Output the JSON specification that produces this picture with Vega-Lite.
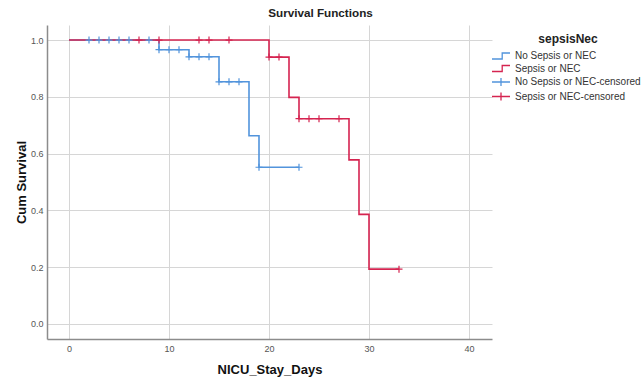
{
  "$schema": "https://vega.github.io/schema/vega-lite/v6.json",
  "width": 445,
  "height": 314,
  "autosize": {"type": "none"},
  "padding": {"left": 47, "top": 25, "right": 150, "bottom": 40},
  "background": "white",
  "title": {"text": "Survival Functions", "fontSize": 11.7, "fontWeight": "bold", "font": "Liberation Sans", "color": "#222222", "anchor": "middle", "dx": 51, "offset": 5},
  "config": {"view": {"stroke": null}, "font": "Liberation Sans"},
  "datasets": {
    "curves": [
      {"series": "No Sepsis or NEC", "days": 0, "surv": 1.0},
      {"series": "No Sepsis or NEC", "days": 9, "surv": 0.966},
      {"series": "No Sepsis or NEC", "days": 12, "surv": 0.941},
      {"series": "No Sepsis or NEC", "days": 15, "surv": 0.853},
      {"series": "No Sepsis or NEC", "days": 18, "surv": 0.663},
      {"series": "No Sepsis or NEC", "days": 19, "surv": 0.552},
      {"series": "No Sepsis or NEC", "days": 23, "surv": 0.552},
      {"series": "Sepsis or NEC", "days": 0, "surv": 1.0},
      {"series": "Sepsis or NEC", "days": 20, "surv": 0.94},
      {"series": "Sepsis or NEC", "days": 22, "surv": 0.798},
      {"series": "Sepsis or NEC", "days": 23, "surv": 0.723},
      {"series": "Sepsis or NEC", "days": 28, "surv": 0.578},
      {"series": "Sepsis or NEC", "days": 29, "surv": 0.386},
      {"series": "Sepsis or NEC", "days": 30, "surv": 0.193},
      {"series": "Sepsis or NEC", "days": 33, "surv": 0.193}
    ],
    "censored": [
      {"series": "No Sepsis or NEC-censored", "days": 2, "surv": 1.0},
      {"series": "No Sepsis or NEC-censored", "days": 3, "surv": 1.0},
      {"series": "No Sepsis or NEC-censored", "days": 4, "surv": 1.0},
      {"series": "No Sepsis or NEC-censored", "days": 5, "surv": 1.0},
      {"series": "No Sepsis or NEC-censored", "days": 6, "surv": 1.0},
      {"series": "No Sepsis or NEC-censored", "days": 8, "surv": 1.0},
      {"series": "No Sepsis or NEC-censored", "days": 9, "surv": 0.966},
      {"series": "No Sepsis or NEC-censored", "days": 10, "surv": 0.966},
      {"series": "No Sepsis or NEC-censored", "days": 11, "surv": 0.966},
      {"series": "No Sepsis or NEC-censored", "days": 12, "surv": 0.941},
      {"series": "No Sepsis or NEC-censored", "days": 13, "surv": 0.941},
      {"series": "No Sepsis or NEC-censored", "days": 14, "surv": 0.941},
      {"series": "No Sepsis or NEC-censored", "days": 15, "surv": 0.853},
      {"series": "No Sepsis or NEC-censored", "days": 16, "surv": 0.853},
      {"series": "No Sepsis or NEC-censored", "days": 17, "surv": 0.853},
      {"series": "No Sepsis or NEC-censored", "days": 19, "surv": 0.552},
      {"series": "No Sepsis or NEC-censored", "days": 23, "surv": 0.552},
      {"series": "Sepsis or NEC-censored", "days": 7, "surv": 1.0},
      {"series": "Sepsis or NEC-censored", "days": 9, "surv": 1.0},
      {"series": "Sepsis or NEC-censored", "days": 13, "surv": 1.0},
      {"series": "Sepsis or NEC-censored", "days": 14, "surv": 1.0},
      {"series": "Sepsis or NEC-censored", "days": 16, "surv": 1.0},
      {"series": "Sepsis or NEC-censored", "days": 20, "surv": 0.94},
      {"series": "Sepsis or NEC-censored", "days": 21, "surv": 0.94},
      {"series": "Sepsis or NEC-censored", "days": 23, "surv": 0.723},
      {"series": "Sepsis or NEC-censored", "days": 24, "surv": 0.723},
      {"series": "Sepsis or NEC-censored", "days": 25, "surv": 0.723},
      {"series": "Sepsis or NEC-censored", "days": 27, "surv": 0.723},
      {"series": "Sepsis or NEC-censored", "days": 33, "surv": 0.193}
    ]
  },
  "encoding": {
    "x": {
      "field": "days", "type": "quantitative",
      "scale": {"domain": [-2.2, 42.3], "nice": false, "zero": false},
      "axis": {"values": [0, 10, 20, 30, 40], "title": "NICU_Stay_Days", "grid": true, "gridColor": "#d6d6d6", "gridWidth": 1, "ticks": false, "domainColor": "#8c8c8c", "domainWidth": 1.5, "labelFontSize": 9, "labelColor": "#555555", "labelPadding": 5, "titleFontSize": 13, "titleFontWeight": "bold", "titleColor": "#111111", "titlePadding": 10}
    },
    "y": {
      "field": "surv", "type": "quantitative",
      "scale": {"domain": [-0.053, 1.053], "nice": false, "zero": false},
      "axis": {"values": [0, 0.2, 0.4, 0.6, 0.8, 1.0], "format": ".1f", "title": "Cum Survival", "grid": true, "gridColor": "#d6d6d6", "gridWidth": 1, "ticks": false, "domainColor": "#8c8c8c", "domainWidth": 1.5, "labelFontSize": 9, "labelColor": "#555555", "labelPadding": 4, "titleFontSize": 13, "titleFontWeight": "bold", "titleColor": "#111111", "titlePadding": 2}
    }
  },
  "layer": [
    {
      "data": {"name": "curves"},
      "mark": {"type": "line", "interpolate": "step-after", "strokeWidth": 1.6},
      "encoding": {
        "color": {
          "field": "series", "type": "nominal",
          "scale": {"domain": ["No Sepsis or NEC", "Sepsis or NEC", "No Sepsis or NEC-censored", "Sepsis or NEC-censored"], "range": ["#5294dc", "#d52450", "#5294dc", "#d52450"]},
          "legend": {
            "orient": "none", "legendX": 449, "legendY": 9, "padding": 0,
            "title": "sepsisNec", "titleFontSize": 12, "titleFontWeight": "bold", "titleColor": "#222222", "titleAnchor": "middle", "titlePadding": 5,
            "labelFontSize": 10, "labelColor": "#333333", "labelOffset": 9, "labelLimit": 300, "rowPadding": 0.5,
            "symbolSize": 64, "symbolStrokeWidth": 1.3, "symbolFillColor": "transparent",
            "encode": {"symbols": {"update": {
              "shape": {"signal": "indexof(datum.value, 'censored') >= 0 ? 'M-2.25,0H2.25M0,-1V1' : 'M-2.25,0.75H0.3V-0.75H2.25'"},
              "fill": {"value": "transparent"},
              "strokeWidth": {"value": 1.3}
            }}}
          }
        },
        "order": {"field": "days", "type": "quantitative"}
      }
    },
    {
      "data": {"name": "censored"},
      "mark": {"type": "point", "shape": "M-1,0H1M0,-1V1", "size": 49, "filled": false, "strokeWidth": 1.2, "opacity": 1},
      "encoding": {
        "color": {"field": "series", "type": "nominal"}
      }
    }
  ]
}
